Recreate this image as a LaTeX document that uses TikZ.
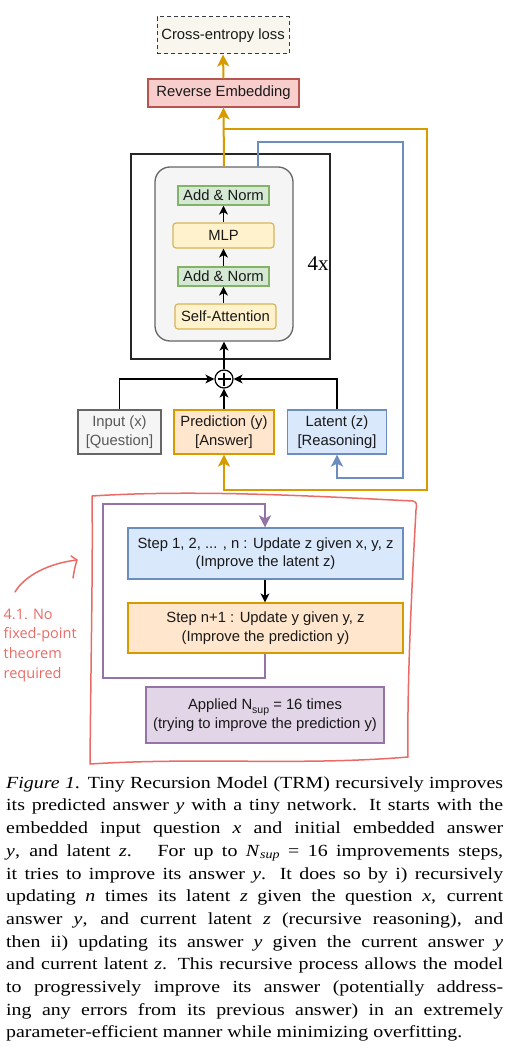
\documentclass[tikz,border=0pt]{standalone}
\usepackage{fontspec}
\setmainfont{Liberation Sans}
\newfontfamily\capfont[FakeStretch=1.17]{Liberation Serif}
\newfontfamily\serifplain{Liberation Serif}
\newfontfamily\notefont{Open Sans}
\usetikzlibrary{arrows.meta}
\definecolor{lossF}{HTML}{F9F7ED}\definecolor{lossS}{HTML}{36393D}
\definecolor{revF}{HTML}{F8CECC}\definecolor{revS}{HTML}{B85450}
\definecolor{grnF}{HTML}{D5E8D4}\definecolor{grnS}{HTML}{82B366}
\definecolor{ylwF}{HTML}{FFF2CC}\definecolor{ylwS}{HTML}{D6B656}
\definecolor{gryF}{HTML}{F5F5F5}\definecolor{gryS}{HTML}{666666}
\definecolor{orgF}{HTML}{FFE6CC}\definecolor{orgS}{HTML}{D79B00}
\definecolor{bluF}{HTML}{DAE8FC}\definecolor{bluS}{HTML}{6C8EBF}
\definecolor{purF}{HTML}{E1D5E7}\definecolor{purS}{HTML}{9673A6}
\definecolor{redS}{HTML}{EA6B66}
\newcommand{\capline}[1]{\makebox[497pt][s]{#1}}
\begin{document}
\begin{tikzpicture}[x=1pt,y=-1pt,
  box/.style={draw, line width=1.2pt, inner sep=0pt, align=center,
    font=\fontsize{14.8}{18.5}\selectfont, text=black!90},
  blk/.style={draw=black, line width=1.2pt, -{Stealth[length=9pt,width=9pt,inset=2.5pt]}},
  org/.style={draw=orgS, line width=2pt, -{Stealth[length=12pt,width=12pt,inset=3pt]}},
  blu/.style={draw=bluS, line width=2pt, -{Stealth[length=12pt,width=12pt,inset=3pt]}},
  pur/.style={draw=purS, line width=2pt, -{Stealth[length=12pt,width=12pt,inset=3pt]}},
  redline/.style={draw=redS, line width=1.5pt, line cap=round, line join=round}]
\useasboundingbox (0,0) rectangle (513,1062);

% top boxes
\node[box, fill=lossF, draw=lossS, line width=1pt, dash pattern=on 4pt off 3pt,
  minimum width=132pt, minimum height=37pt] (loss) at (223,35.5) {Cross-entropy loss};
\node[box, fill=revF, draw=revS, minimum width=151pt, minimum height=28pt] (rev) at (223.5,93) {Reverse Embedding};

% transformer block
\node[draw=black!85, line width=1.3pt, minimum width=199pt, minimum height=205pt, inner sep=0pt] (outer) at (230.5,256.5) {};
\node[draw=gryS, fill=gryF, line width=1.3pt, rounded corners=15pt, minimum width=138pt, minimum height=174pt, inner sep=0pt] (inner) at (224,254) {};
\node[box, fill=grnF, draw=grnS, minimum width=91pt, minimum height=19pt] (an2) at (223.5,195.5) {Add \& Norm};
\node[box, fill=ylwF, draw=ylwS, rounded corners=3pt, minimum width=101pt, minimum height=25pt] (mlp) at (223.5,235.5) {MLP};
\node[box, fill=grnF, draw=grnS, minimum width=91pt, minimum height=19pt] (an1) at (223.5,276.5) {Add \& Norm};
\node[box, fill=ylwF, draw=ylwS, rounded corners=3pt, minimum width=101pt, minimum height=25pt] (sa) at (225.5,316.5) {Self-Attention};
\node[font=\serifplain\fontsize{21}{21}\selectfont, inner sep=0pt] (four) at (318,264) {4x};

\draw[blk] (sa.north -| an1.south) -- (an1.south);
\draw[blk] (an1.north) -- (mlp.south -| an1.north);
\draw[blk] (mlp.north) -- (an2.south);

% plus and inputs
\node[draw=black, line width=1.2pt, fill=white, circle, minimum size=18pt, inner sep=0pt] (plus) at (224,379) {};
\draw[line width=1.4pt] ([yshift=-6.5pt]plus.center) -- ([yshift=6.5pt]plus.center);
\draw[line width=1.4pt] ([xshift=-6.5pt]plus.center) -- ([xshift=6.5pt]plus.center);

\node[box, fill=gryF, draw=gryS, text=black!65, minimum width=83pt, minimum height=44pt] (inp) at (119.5,432) {Input (x)\\{}[Question]};
\node[box, fill=orgF, draw=orgS, minimum width=100pt, minimum height=44pt] (pred) at (224,432) {Prediction (y)\\{}[Answer]};
\node[box, fill=bluF, draw=bluS, minimum width=99pt, minimum height=44pt] (lat) at (337,432) {Latent (z)\\{}[Reasoning]};

\draw[blk] (inp.north) |- (plus.west);
\draw[blk] (lat.north) |- (plus.east);
\draw[blk] (pred.north) -- (plus.south);
\draw[blk] (plus.north) -- (inner.south);

% orange and blue feedback
\coordinate (o1) at (224,129);
\coordinate (o2) at (427,129);
\coordinate (o3) at (427,490);
\coordinate (o4) at (224,490);
\draw[org] (inner.north) -- (rev.south);
\draw[org] (rev.north) -- (loss.south);
\draw[org, line join=miter] (o1) -- (o2) -- (o3) -- (o4) -- (pred.south);

\coordinate (b0) at (258,167);
\coordinate (b1) at (258,142);
\coordinate (b2) at (403,142);
\coordinate (b3) at (403,478);
\coordinate (b4) at (337,478);
\draw[blu, line join=miter] (b0) -- (b1) -- (b2) -- (b3) -- (b4) -- (lat.south);

% recursion section
\node[box, fill=bluF, draw=bluS, minimum width=275pt, minimum height=51pt] (s1) at (265.5,553.5) {Step 1, 2, ... , n : Update z given x, y, z\\(Improve the latent z)};
\node[box, fill=orgF, draw=orgS, minimum width=275pt, minimum height=50pt] (s2) at (265.5,628) {Step n+1 : Update y given y, z\\(Improve the prediction y)};
\node[box, fill=purF, draw=purS, minimum width=238pt, minimum height=56pt] (app) at (265,715) {Applied N\raisebox{-3.5pt}{\fontsize{10.5}{12}\selectfont sup} = 16 times\\(trying to improve the prediction y)};

\coordinate (p1) at (265,678);
\coordinate (p2) at (103,678);
\coordinate (p3) at (103,504);
\coordinate (p4) at (265,504);
\draw[blk] (s1.south -| p4) -- (s2.north -| p4);
\draw[pur, line join=miter] (s2.south -| p1) -- (p1) -- (p2) -- (p3) -- (p4) -- (s1.north -| p4);

% red hand-drawn annotation
\draw[redline] (92,496) .. controls (200,489) and (330,497) .. (413,501)
  .. controls (417,502) and (417,505) .. (416,510)
  .. controls (411,600) and (407,690) .. (408,757)
  .. controls (300,766) and (200,757) .. (90,764)
  .. controls (91,650) and (93,560) .. (92,496);
\draw[redline] (15,592) .. controls (25,575) and (50,563) .. (77,560);
\draw[redline] (71,556) -- (77,560) .. controls (75,566) and (74,572) .. (73,578);
\node[anchor=north west, align=left, text=redS, inner sep=0pt,
  font=\notefont\fontsize{14.5}{19.7}\selectfont] (note) at (3.5,605.2)
  {\strut 4.1. No\\fixed-point\\theorem\\required};

% caption
\node[anchor=north west, align=left, inner sep=0pt,
  font=\capfont\fontsize{17}{22.7}\selectfont] (cap) at (6,772.1) {%
\strut\capline{\textit{Figure 1}. Tiny Recursion Model (TRM) recursively improves}\\
\capline{its predicted answer \textit{y} with a tiny network. It starts with the}\\
\capline{embedded input question \textit{x} and initial embedded answer}\\
\capline{\textit{y}, and latent \textit{z}. \ For up to \textit{N}\raisebox{-2.5pt}{\fontsize{12}{12}\selectfont\textit{sup}} = 16 improvements steps,}\\
\capline{it tries to improve its answer \textit{y}. It does so by i) recursively}\\
\capline{updating \textit{n} times its latent \textit{z} given the question \textit{x}, current}\\
\capline{answer \textit{y}, and current latent \textit{z} (recursive reasoning), and}\\
\capline{then ii) updating its answer \textit{y} given the current answer \textit{y}}\\
\capline{and current latent \textit{z}. This recursive process allows the model}\\
\capline{to progressively improve its answer (potentially address-}\\
\capline{ing any errors from its previous answer) in an extremely}\\
parameter-efficient manner while minimizing overfitting.};
\end{tikzpicture}
\end{document}
